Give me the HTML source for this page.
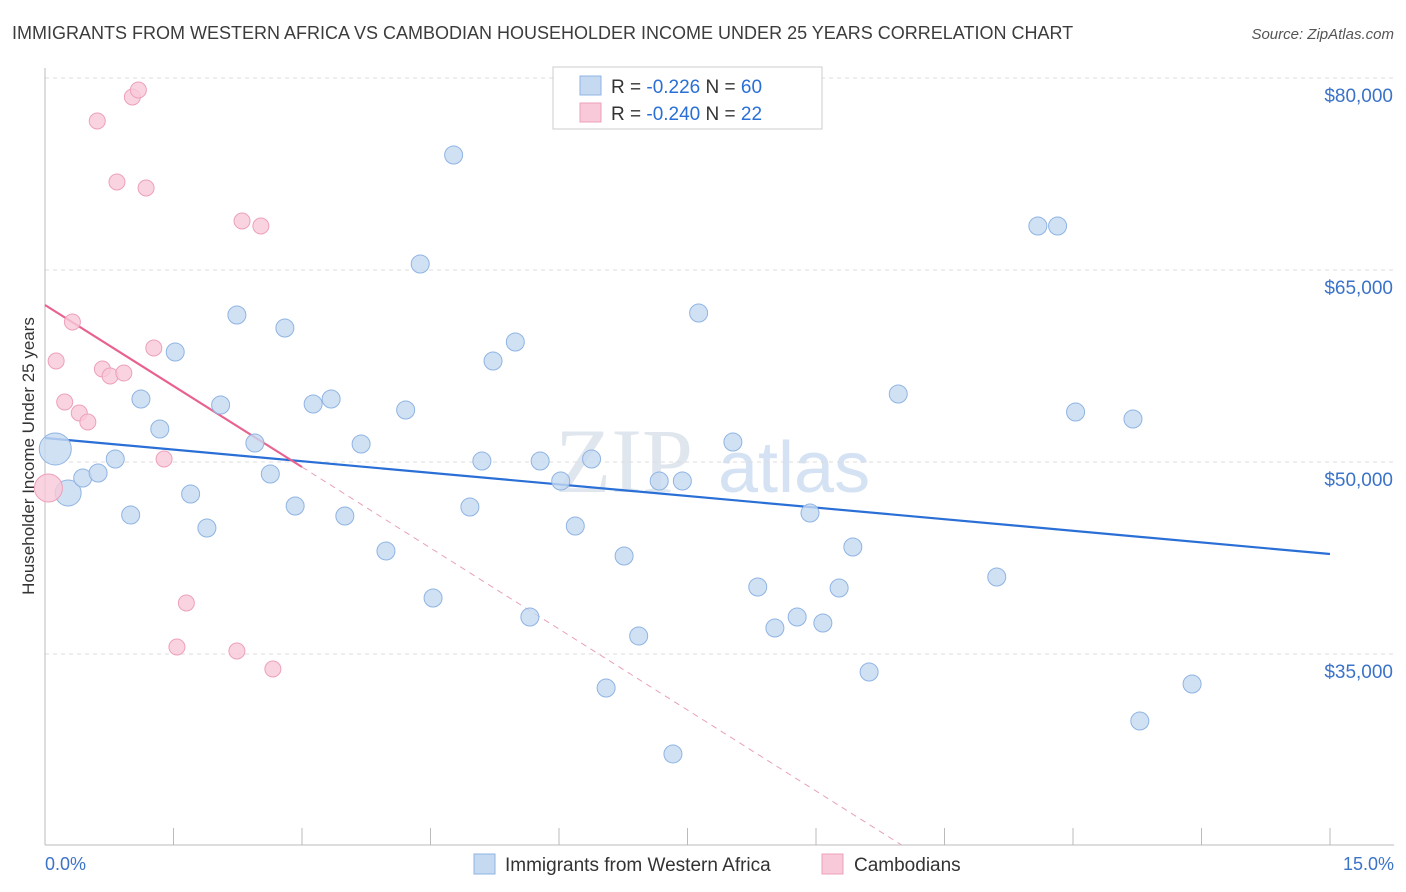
<!DOCTYPE html>
<html><head><meta charset="utf-8"><style>
body{margin:0;background:#fff;font-family:"Liberation Sans",sans-serif;}
svg{display:block}
</style></head><body>
<svg id="chart" width="1406" height="892" xmlns="http://www.w3.org/2000/svg">
<text x="12" y="39" font-size="18" fill="#3c3c3c">IMMIGRANTS FROM WESTERN AFRICA VS CAMBODIAN HOUSEHOLDER INCOME UNDER 25 YEARS CORRELATION CHART</text>
<text x="1394" y="39" font-size="15" fill="#555" font-style="italic" text-anchor="end">Source: ZipAtlas.com</text>
<text transform="translate(34,456) rotate(-90)" font-size="17" fill="#333" text-anchor="middle">Householder Income Under 25 years</text>
<text x="555" y="492" font-size="92" fill="#dfe6ee" font-family="Liberation Serif,serif">ZIP</text>
<text x="718" y="492" font-size="72" fill="#d4e2f3">atlas</text>
<g id="grid"></g><g id="axes"></g><g id="lines"></g><g id="pts"></g>
<g>
<rect x="553" y="67" width="269" height="62" fill="#fff" stroke="#ccc"/>
<rect x="580" y="76" width="21" height="19" fill="#c5d9f1" stroke="#8fb4e3"/>
<text x="611" y="93" font-size="19" fill="#333">R = <tspan fill="#2a6fd6">-0.226</tspan>   N = <tspan fill="#2a6fd6">60</tspan></text>
<rect x="580" y="103" width="21" height="19" fill="#f8c9d8" stroke="#eea0ba"/>
<text x="611" y="120" font-size="19" fill="#333">R = <tspan fill="#2a6fd6">-0.240</tspan>   N = <tspan fill="#2a6fd6"> 22</tspan></text>
</g>
<g>
<rect x="474" y="854" width="21" height="20" fill="#c5d9f1" stroke="#8fb4e3"/>
<text x="505" y="871" font-size="19" fill="#333">Immigrants from Western Africa</text>
<rect x="822" y="854" width="21" height="20" fill="#f8c9d8" stroke="#eea0ba"/>
<text x="854" y="871" font-size="19" fill="#333">Cambodians</text>
</g>
<text x="45" y="870" font-size="18" fill="#3b73c8">0.0%</text>
<text x="1394" y="870" font-size="18" fill="#3b73c8" text-anchor="end">15.0%</text>
</svg>
<script>
const yTicks=[80000,65000,50000,35000];
const yTickLabels=["$80,000","$65,000","$50,000","$35,000"];
const xTicks=[0,1.5,3,4.5,6,7.5,9,10.5,12,13.5,15];
const blueX=[0.12,0.27,0.44,0.62,0.82,1.00,1.12,1.34,1.52,1.70,1.89,2.05,2.24,2.45,2.63,2.80,2.92,3.13,3.34,3.50,3.69,3.98,4.21,4.38,4.53,4.77,4.96,5.10,5.23,5.49,5.66,5.78,6.02,6.19,6.38,6.55,6.76,6.93,7.17,7.33,7.44,7.63,8.03,8.32,8.52,8.78,8.93,9.08,9.27,9.43,9.62,9.96,11.11,11.59,11.82,12.03,12.70,12.78,13.39];
const blueY=[51016,47578,48750,49141,50234,45859,54922,52578,58594,47500,44844,54453,61484,51484,49063,60469,46563,54531,54922,45781,51406,43047,54063,65469,39375,73984,46484,50078,57891,59375,37891,50078,48516,45000,50234,32344,42656,36406,48516,27188,48516,61641,51563,40234,37031,37891,46016,37422,40156,43359,33594,55313,41016,68438,68438,53906,53359,29766,32656];
const pinkX=[0.04,0.13,0.23,0.32,0.40,0.50,0.61,0.67,0.76,0.84,0.92,1.02,1.09,1.18,1.27,1.39,1.54,1.65,2.24,2.30,2.52,2.66];
const pinkY=[47969,57891,54688,60938,53828,53125,76641,57266,56719,71875,56953,78516,79063,71406,58906,50234,35547,38984,35234,68828,68438,33828];
const blueTrend=[51875,42812];
const pinkTrend=[62266,49609];
const NS="http://www.w3.org/2000/svg";
const X=v=>45+(v/15)*1285;
const Y=v=>462-(v-50000)*0.0128;
function mk(parent,tag,attrs){const e=document.createElementNS(NS,tag);for(const k in attrs)e.setAttribute(k,attrs[k]);document.getElementById(parent).appendChild(e);return e;}
yTicks.forEach((t,i)=>{
 const l=mk('grid','line',{x1:45,x2:1394,y1:Y(t),y2:Y(t),stroke:'#dcdcdc','stroke-dasharray':'4,4'});
 
 
 const tx=mk('axes','text',{x:1393,y:Y(t)+24,'font-size':19,fill:'#3b73c8','text-anchor':'end'});
 tx.textContent=yTickLabels[i];
 
 
});
const ax=mk('axes','line',{x1:45,x2:45,y1:68,y2:845,stroke:'#bbb'});


const bx=mk('axes','line',{x1:45,x2:1394,y1:845,y2:845,stroke:'#bbb'});


xTicks.forEach(t=>{
 const l=mk('axes','line',{x1:X(t),x2:X(t),y1:828,y2:845,stroke:'#bbb'});
 
 
});
blueX.forEach((x,i)=>{
 const r=i==0?16:(i==1?13:9);
 const c=mk('pts','circle',{cx:X(x),cy:Y(blueY[i]),r:r,fill:'#c5d9f1','fill-opacity':0.8,stroke:'#8fb4e3','stroke-width':1});
 
 
});
pinkX.forEach((x,i)=>{
 const r=i==0?14:8;
 const c=mk('pts','circle',{cx:X(x),cy:Y(pinkY[i]),r:r,fill:'#f8c9d8','fill-opacity':0.8,stroke:'#eea0ba','stroke-width':1});
 
 
});
const bl=mk('lines','line',{x1:X(0),y1:Y(blueTrend[0]),x2:X(15),y2:Y(blueTrend[1]),stroke:'#2a6fd6','stroke-width':2.2});


const slope=(pinkTrend[1]-pinkTrend[0])/3;
const xEnd=(20078-pinkTrend[0])/slope;
const pd=mk('lines','line',{x1:X(3),y1:Y(pinkTrend[1]),x2:X(xEnd),y2:Y(pinkTrend[0]+slope*xEnd),stroke:'#e8a0b8','stroke-width':1,'stroke-dasharray':'6,5'});


const pl=mk('lines','line',{x1:X(0),y1:Y(pinkTrend[0]),x2:X(3),y2:Y(pinkTrend[1]),stroke:'#e8628d','stroke-width':2.2});


</script>
</body></html>
